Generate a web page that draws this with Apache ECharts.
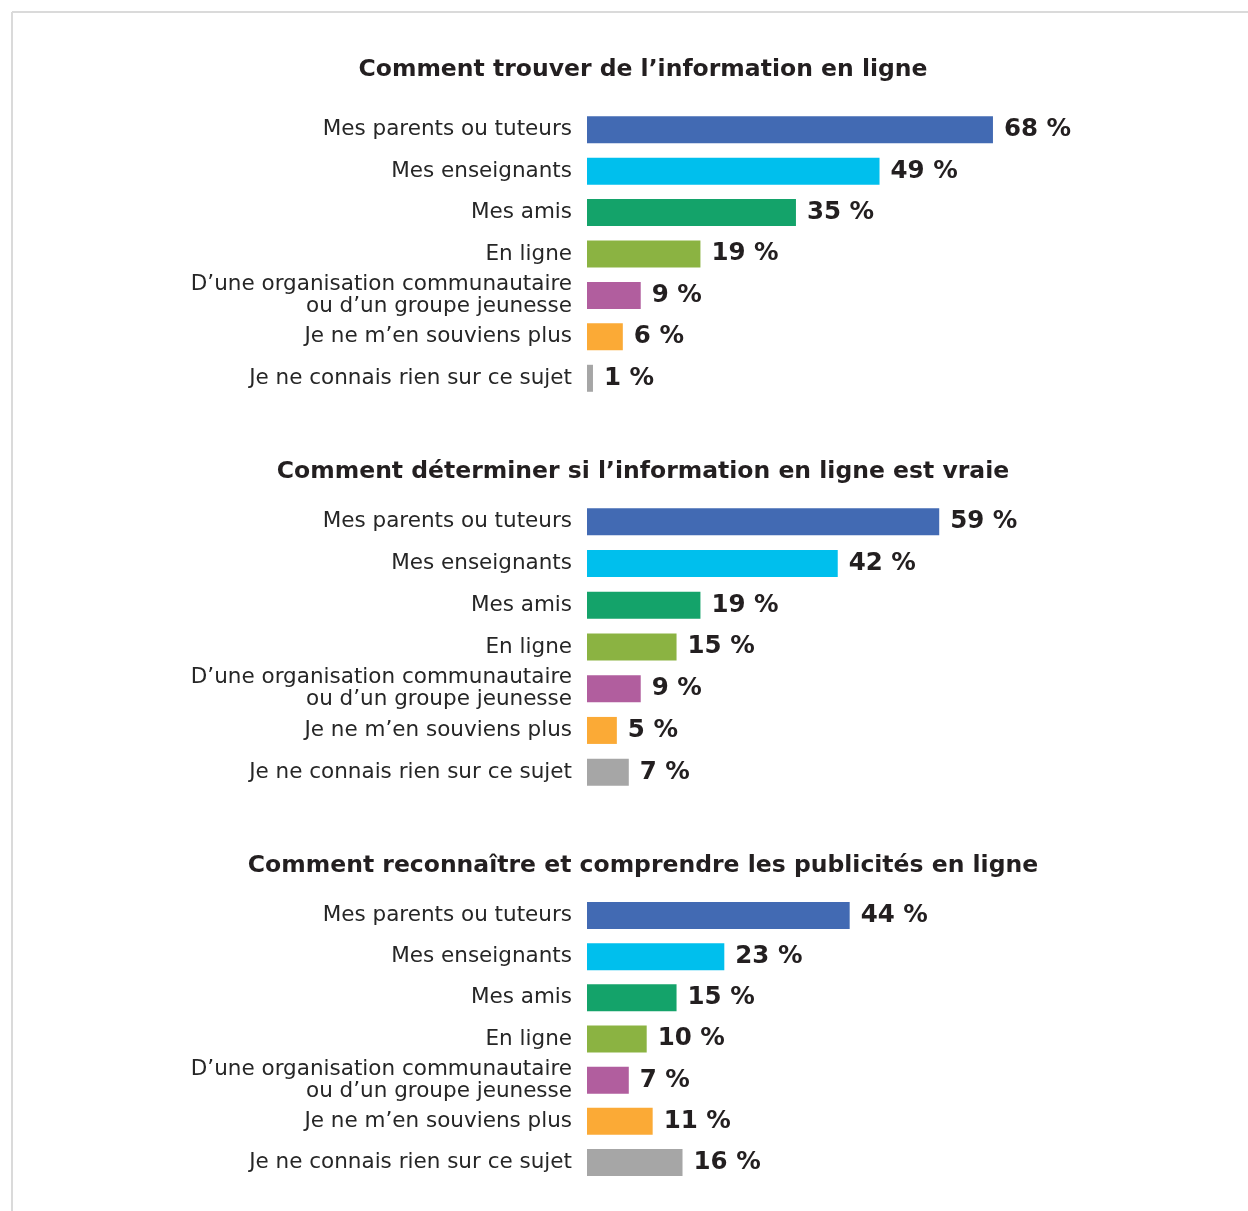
<!DOCTYPE html>
<html>
<head>
<meta charset="utf-8">
<script src="https://cdn.jsdelivr.net/npm/echarts@6/dist/echarts.min.js"></script>
<style>
html,body{margin:0;padding:0;background:#fff;}
#chart{width:1248px;height:1211px;}
</style>
</head>
<body>
<div id="chart"></div>
<script>
const titles = [
  'Comment trouver de l’information en ligne',
  'Comment déterminer si l’information en ligne est vraie',
  'Comment reconnaître et comprendre les publicités en ligne'
];
const categories = [
  'Mes parents ou tuteurs',
  'Mes enseignants',
  'Mes amis',
  'En ligne',
  'D’une organisation communautaire\nou d’un groupe jeunesse',
  'Je ne m’en souviens plus',
  'Je ne connais rien sur ce sujet'
];
const colors = ['#426ab3', '#00bfed', '#14a36a', '#8bb342', '#b15e9e', '#fbaa36', '#a6a6a6'];
const valuesFind = [68, 49, 35, 19, 9, 6, 1];
const valuesTrue = [59, 42, 19, 15, 9, 5, 7];
const valuesAds = [44, 23, 15, 10, 7, 11, 16];

const panels = [valuesFind, valuesTrue, valuesAds];
const gridTops = [109, 501, 895];
const gridHeights = [290, 292, 288];
const titleTops = [53, 455, 849];
const FONT = '"DejaVu Sans", sans-serif';

const chart = echarts.init(document.getElementById('chart'), null, {renderer: 'canvas'});
const option = {
  backgroundColor: '#ffffff',
  animation: false,
  title: titles.map((t, i) => ({
    text: t,
    left: 638,
    textAlign: 'center',
    top: titleTops[i],
    textStyle: {fontFamily: FONT, fontSize: 23.5, fontWeight: 'bold', color: '#231f20'}
  })),
  graphic: [
    {type: 'line', shape: {x1: 12, y1: 12, x2: 1248, y2: 12}, style: {stroke: '#dadada', lineWidth: 2}},
    {type: 'line', shape: {x1: 12, y1: 12, x2: 12, y2: 1211}, style: {stroke: '#dadada', lineWidth: 2}}
  ],
  grid: panels.map((p, i) => ({left: 587, width: 597, top: gridTops[i], height: gridHeights[i]})),
  xAxis: panels.map((p, i) => ({
    type: 'value', gridIndex: i, min: 0, max: 100, show: false
  })),
  yAxis: panels.map((p, i) => ({
    type: 'category', gridIndex: i, data: categories, inverse: true,
    axisLine: {show: false}, axisTick: {show: false}, splitLine: {show: false},
    axisLabel: {
      margin: 15, fontFamily: FONT, fontSize: 21.5, color: '#262626',
      lineHeight: 22, align: 'right'
    }
  })),
  series: panels.map((p, i) => ({
    type: 'bar', xAxisIndex: i, yAxisIndex: i,
    barWidth: 27,
    data: p.map((v, j) => ({value: v, itemStyle: {color: colors[j]}})),
    label: {
      show: true, position: 'right', distance: 11,
      formatter: '{c} %',
      fontFamily: FONT, fontSize: 24.5, fontWeight: 'bold', color: '#231f20'
    }
  }))
};
chart.setOption(option);
</script>
</body>
</html>
